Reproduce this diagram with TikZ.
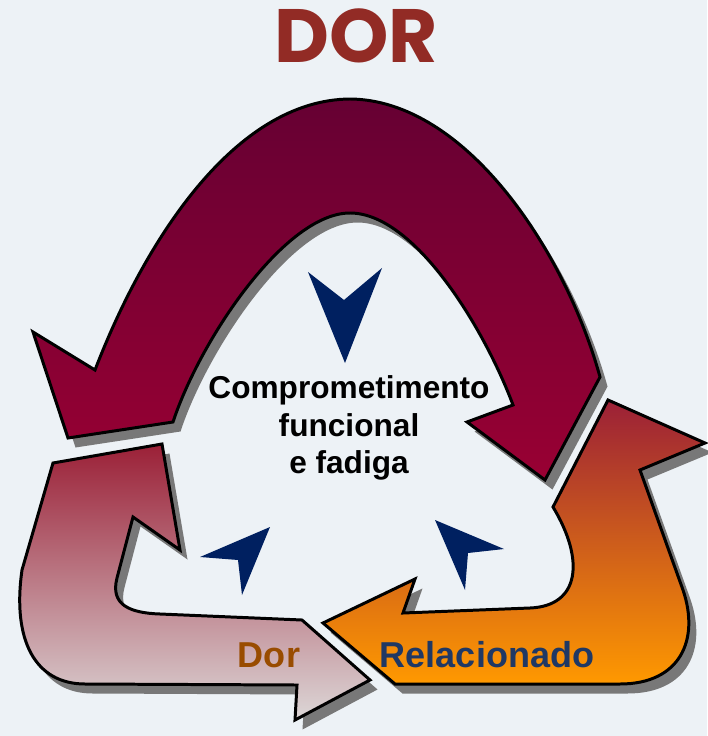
\documentclass[tikz,border=0pt]{standalone}
\usepackage{fontspec}
\setmainfont{Liberation Sans}
\newfontfamily\titlefont{Poppins}
\usepackage{tikz}
\usetikzlibrary{shadows}
\definecolor{bgcol}{RGB}{237,242,246}
\definecolor{titlered}{RGB}{146,43,37}
\definecolor{wine}{RGB}{102,0,51}
\definecolor{crimson}{RGB}{153,0,51}
\definecolor{rosered}{RGB}{155,32,55}
\definecolor{palegray}{RGB}{220,215,215}
\definecolor{amber}{RGB}{255,153,0}
\definecolor{navy}{RGB}{0,32,96}
\definecolor{shadowgray}{RGB}{120,120,120}
\definecolor{dorbrown}{RGB}{153,76,0}
\definecolor{relblue}{RGB}{31,56,100}

\begin{document}
\begin{tikzpicture}[x=0.02cm,y=-0.02cm]
\tikzset{bigarrow/.style = {draw=black,line width=1.7pt,line join=miter,
  drop shadow={shadow xshift=0.15cm,shadow yshift=-0.19cm,fill=shadowgray,opacity=1}}}
\tikzset{navytip/.style = {fill=navy}}
\tikzset{cycletext/.style = {font=\bfseries\fontsize{20.5}{24}\selectfont}}
\fill[bgcol] (0,0) rectangle (707,736);
\useasboundingbox (0,0) rectangle (707,736);
% top arrow
\path[bigarrow,top color=wine,bottom color=crimson]
  (33,332) -- (95,370) .. controls (145,240) and (235,100) .. (350,99)
  .. controls (465,100) and (565,250) .. (600,377) -- (545,480) -- (467,422)
  -- (513,405) .. controls (485,330) and (415,213) .. (350,213)
  .. controls (285,213) and (200,340) .. (173,422) -- (68,438) -- cycle;
% left arrow
\path[bigarrow,top color=rosered,bottom color=palegray]
  (53,463) -- (162,444) -- (180,550) -- (133,517) -- (117,578)
  .. controls (110,605) and (130,613) .. (160,614) -- (302,620) -- (370,680)
  -- (295,720) -- (297,685) -- (85,684) .. controls (35,684) and (12,640) .. (22,570) -- cycle;
% right arrow
\path[bigarrow,top color=rosered,bottom color=amber]
  (608,400) -- (705,443) -- (640,470) -- (683,590)
  .. controls (700,640) and (680,684) .. (620,684) -- (395,684) -- (323,623)
  -- (415,579) -- (403,613) -- (530,608) .. controls (580,606) and (585,560) .. (553,507) -- cycle;
% small tips
\fill[navytip] (308,272) -- (344,300) -- (382,268) -- (345,363) -- cycle;
\fill[navytip] (270,527) -- (242,595) -- (238,560) -- (200,557) -- cycle;
\fill[navytip] (435,520) -- (504,549) -- (468,553) -- (465,590) -- cycle;
% texts
\node[anchor=base,text=titlered,font=\titlefont\bfseries\fontsize{43}{50}\selectfont] (title) at (356,63) {DOR};
\node[align=center,font=\bfseries\fontsize{18}{21.5}\selectfont] (core) at (349,428) {Comprometimento\\funcional\\e fadiga};
\node[cycletext,anchor=base,text=dorbrown] (dor) at (269,667) {Dor};
\node[cycletext,anchor=base,text=relblue] (rel) at (487,667) {Relacionado};
\end{tikzpicture}
\end{document}
